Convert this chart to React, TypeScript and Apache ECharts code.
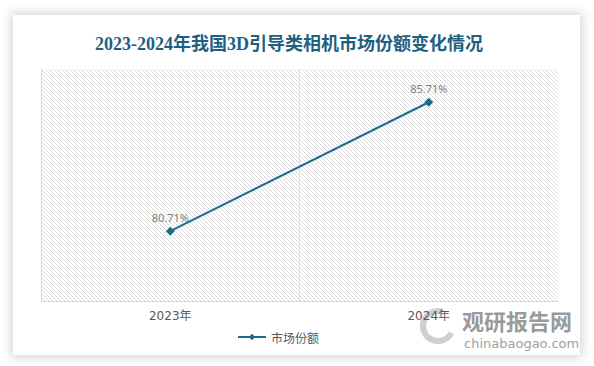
import React, { useEffect, useRef } from "react";
import * as echarts from "echarts";

const categories = ["2023年", "2024年"];
const seriesName = "市场份额";
const shareValues = [80.71, 85.71];
const titleText = "2023-2024年我国3D引导类相机市场份额变化情况";

function makeHatch(): string {
  const c = document.createElement("canvas");
  c.width = 4;
  c.height = 4;
  const ctx = c.getContext("2d")!;
  ctx.fillStyle = "#ffffff";
  ctx.fillRect(0, 0, 4, 4);
  for (let i = 0; i < 4; i++) {
    ctx.fillStyle = i % 2 === 0 ? "#d2d2d2" : "#e2e2e2";
    ctx.fillRect(i, i, 1, 1);
  }
  return c.toDataURL();
}

export default function App() {
  const ref = useRef<HTMLDivElement>(null);
  useEffect(() => {
    document.body.style.margin = "0";
    const chart = echarts.init(ref.current!, null, { renderer: "svg" });
    const hatch = makeHatch();
    chart.setOption({
      animation: false,
      backgroundColor: "transparent",
      title: {
        text: titleText,
        left: 284,
        textAlign: "center",
        top: 30,
        textStyle: {
          fontSize: 18,
          fontWeight: "bold",
          color: "#1f5f7f",
          fontFamily: "'Liberation Serif', 'Noto Sans CJK SC', serif",
        },
      },
      grid: {
        left: 41,
        right: 36,
        top: 69,
        bottom: 65,
        show: true,
        borderWidth: 0,
        backgroundColor: { image: hatch, repeat: "repeat" },
      },
      legend: {
        data: [seriesName],
        bottom: 18,
        left: 232,
        itemWidth: 28,
        itemHeight: 8,
        itemGap: 4,
        textStyle: { color: "#595959", fontSize: 12, fontFamily: "'Noto Sans CJK SC', sans-serif" },
      },
      xAxis: {
        type: "category",
        data: categories,
        boundaryGap: true,
        axisLine: { lineStyle: { color: "#d9d9d9", width: 1 } },
        axisTick: { show: false },
        axisLabel: {
          color: "#595959",
          fontSize: 12,
          margin: 9,
          fontFamily: "'DejaVu Sans', 'Noto Sans CJK SC', sans-serif",
        },
        splitLine: {
          show: true,
          lineStyle: { color: ["rgba(0,0,0,0)", "#e3e3e3", "rgba(0,0,0,0)"], width: 1 },
        },
      },
      yAxis: {
        type: "value",
        min: 78,
        max: 87,
        axisLine: { show: true, lineStyle: { color: "#d9d9d9" } },
        axisTick: { show: false },
        axisLabel: { show: false },
        splitLine: { show: false },
      },
      series: [
        {
          name: seriesName,
          type: "line",
          data: shareValues,
          symbol: "diamond",
          symbolSize: 9,
          lineStyle: { color: "#1f6b8e", width: 2 },
          itemStyle: { color: "#1f6b8e" },
          label: {
            show: true,
            position: "top",
            distance: 4,
            formatter: (p: any) => p.value.toFixed(2) + "%",
            color: "#7f7f7f",
            fontSize: 11,
            fontFamily: "'Noto Sans', sans-serif",
          },
        },
      ],
      graphic: [
        {
          type: "arc",
          shape: { cx: 438, cy: 326, r: 15, startAngle: Math.PI * 0.15, endAngle: Math.PI * 1.6 },
          style: { stroke: "#cfcfcf", lineWidth: 6, fill: "none" },
          silent: true,
        },
        {
          type: "text",
          x: 462,
          y: 309,
          style: {
            text: "观研报告网",
            fontSize: 22,
            fontWeight: "bold",
            fill: "#9a9a9a",
            fontFamily: "'Noto Sans CJK SC', sans-serif",
          },
          silent: true,
        },
        {
          type: "text",
          x: 464,
          y: 337,
          style: {
            text: "chinabaogao.com",
            fontSize: 13,
            fill: "#a0a0a0",
            fontFamily: "'DejaVu Sans', sans-serif",
          },
          silent: true,
        },
      ],
    });
    return () => chart.dispose();
  }, []);
  return (
    <div style={{ position: "fixed", left: 0, top: 0, width: 594, height: 366, background: "#ffffff", overflow: "hidden" }}>
      <div
        style={{
          position: "absolute",
          left: 13,
          top: 15,
          width: 567,
          height: 340,
          background: "#ffffff",
          boxShadow: "0 0 10px 2px rgba(0,0,0,0.18)",
        }}
      />
      <div ref={ref} style={{ position: "absolute", left: 0, top: 0, width: 594, height: 366 }} />
    </div>
  );
}
